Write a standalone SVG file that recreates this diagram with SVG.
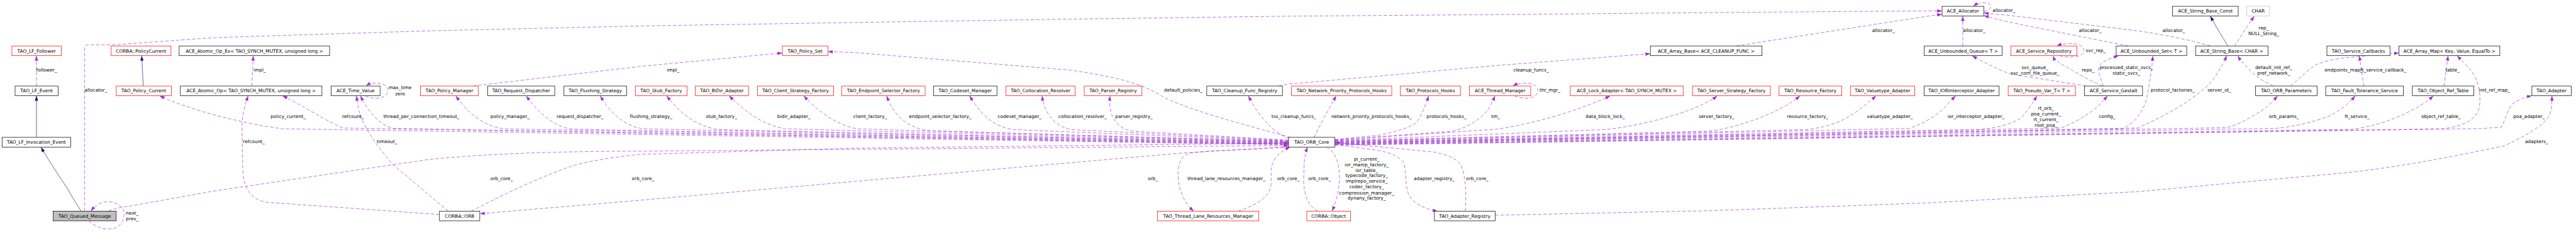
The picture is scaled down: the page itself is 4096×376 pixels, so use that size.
<svg xmlns="http://www.w3.org/2000/svg" width="4096" height="376" viewBox="0 0 4096 376">
<style>
.r{fill:#fff;stroke:#ff0000;stroke-width:1.2}
.k{fill:#fff;stroke:#000;stroke-width:1.2}
.g{fill:#bfbfbf;stroke:#000;stroke-width:1.2}
.c{fill:#fff;stroke:#bfbfbf;stroke-width:1.2}
text{font-family:'DejaVu Sans','Liberation Sans',sans-serif;font-size:12.2px;fill:#000}
.t{text-anchor:middle}
.m{text-anchor:middle}
.d{fill:none;stroke:#9a32cd;stroke-width:1.1;stroke-dasharray:9,5;marker-end:url(#ap)}
.s{fill:none;stroke:#191970;stroke-width:1.1;marker-end:url(#an)}
</style>
<defs>
<marker id="ap" markerUnits="userSpaceOnUse" markerWidth="13" markerHeight="9" viewBox="0 0 13 9" refX="13" refY="4.5" orient="auto"><path d="M0,0 L13,4.5 L0,9 z" fill="#9a32cd"/></marker>
<marker id="an" markerUnits="userSpaceOnUse" markerWidth="13" markerHeight="9" viewBox="0 0 13 9" refX="13" refY="4.5" orient="auto"><path d="M0,0 L13,4.5 L0,9 z" fill="#191970"/></marker>
</defs>
<rect x="0" y="0" width="4096" height="376" fill="#fff"/>
<g transform="scale(0.607)">
<g id="connectors">
<path class="d" d="M95.5,225.8 L95.5,146.3"/>
<path class="d" d="M221.5,554.2 L221.5,128 Q221.5,118 232,117.8 L298,117.6 L563,98.7 L1123,81 L1683,68 L2243,59 L2803,50.3 L3363,42.6 L3923,38.3 L4483,33 L5043,28.6 L5087.4,28.6"/>
<path class="d" d="M233,579.7 C250,596 270,603 290,601 C320,598 328,570 324,552 C318,536 290,525 270,531 C255,536 245,545 238,554.2"/>
<path class="d" d="M659.5,225.8 L663.4,146.3"/>
<path class="d" d="M3375.4,380 L740,338 C640,325 500,290 418,251.5"/>
<path class="d" d="M3375.4,379 L900,336 C860,322 790,275 740,251.5"/>
<path class="d" d="M3375.4,378 L1030,337 C990,326 963,290 944,251.5"/>
<path class="d" d="M957,251.3 C975,262 1005,259 1013,247 C1020,235 1015,224 1000,220 C985,216 970,218 958.6,225.8"/>
<path class="d" d="M1151.2,563 L700,531 C660,525 640,500 636,450 L634,330 C634,300 642,275 650,251.5"/>
<path class="d" d="M1174,554.2 L1027,430 C985,380 950,330 940,290 L933.4,251.5"/>
<path class="d" d="M1238.5,225.8 L1683,173.7 L2049.5,139"/>
<path class="d" d="M3375.4,377 L1320,338 C1260,330 1220,290 1194,251.5"/>
<path class="d" d="M3375.4,376 L1500,339 C1450,334 1405,290 1378.5,251.5"/>
<path class="d" d="M3375.4,375 L1685,338 C1630,330 1595,290 1572.4,251.5"/>
<path class="d" d="M3375.4,374 L1880,340 C1820,330 1780,295 1746.4,251.5"/>
<path class="d" d="M3375.4,373 L2057,338 C1995,328 1950,290 1909.8,251.5"/>
<path class="d" d="M3375.4,372 L2245,338 C2190,328 2140,290 2105.5,251.5"/>
<path class="d" d="M3375.4,371 L2430,343 C2370,332 2340,300 2322.6,251.5"/>
<path class="d" d="M3375.4,370 L2655,340 C2600,332 2570,300 2539.8,251.5"/>
<path class="d" d="M3375.4,369 L2805,340 C2760,330 2735,295 2730,251.5"/>
<path class="d" d="M3375.4,368 L2965,344 C2920,335 2903,300 2907.7,251.5"/>
<path class="d" d="M3376,364 C3330,345 3295,300 3270,251.5"/>
<path class="d" d="M3381,360.5 C3250,325 3100,285 3040,250 C3000,226 2950,205 2803,184 L2240,138 L2168.7,135.5"/>
<path class="d" d="M3349,225.8 C3370,220 3390,219 3396,219 L3923,171.7 L4323.2,141"/>
<path class="d" d="M283.7,554.2 C305,546 320,543 334,542 L563,501 L1123,418.5 C1300,401 1500,397 1683,396.8 L3375.4,382"/>
<path class="d" d="M1235,554.2 C1300,520 1400,470 1500,435 C1560,418 1650,407 1683,405 L2240,389 L3375.4,375.5"/>
<path class="d" d="M3375.4,385 L3105,401 L2240,476 L1683,525 L1256.8,561"/>
<path class="d" d="M3378,386 C3250,395 3130,395 3108,405 C3090,415 3085,440 3086,460 C3088,500 3100,530 3127,554.2"/>
<path class="d" d="M3243,554.2 C3300,535 3328,515 3330,480 L3330,446 C3332,420 3350,398 3380,386"/>
<path class="d" d="M3452,554.2 C3425,540 3415,510 3415,470 L3416,434 C3417,415 3420,400 3425,386"/>
<path class="d" d="M3475,386 C3500,400 3508,430 3509,466 C3508,500 3500,530 3489.3,554.2"/>
<path class="d" d="M3496.8,379 L3611,395 C3650,402 3670,415 3678,430 C3683,450 3681,480 3688,505 C3700,535 3730,548 3766,554.2"/>
<path class="d" d="M3838,554.2 C3842,520 3840,460 3827,434 C3815,415 3790,405 3755,399 L3496.8,374"/>
<path class="d" d="M3443,360.5 C3455,330 3480,290 3500,251.5"/>
<path class="d" d="M3496.8,366 L3611,355 C3660,345 3700,333 3712,320 C3725,300 3735,275 3742.4,251.5"/>
<path class="d" d="M3496.8,367 L3800,345 C3850,335 3880,310 3898,288 C3905,275 3912,262 3916.5,251.5"/>
<path class="d" d="M3967,251.3 C3990,262 4020,259 4027,245 C4032,232 4025,222 4005,219 C3990,217 3975,219 3963,225.8"/>
<path class="d" d="M3496.8,368 L3920,339 C4000,328 4100,300 4170,272 C4190,265 4205,258 4218,251.5"/>
<path class="d" d="M3496.8,369 L4207,340 C4300,330 4400,300 4440,283 C4470,270 4488,260 4498,251.5"/>
<path class="d" d="M3496.8,370 L4480,344 C4550,335 4630,305 4680,276 C4695,268 4705,260 4715,251.5"/>
<path class="d" d="M3496.8,371 L4731,340 C4800,333 4840,312 4875,284 C4890,272 4903,262 4914.5,251.5"/>
<path class="d" d="M4548,120.6 L5043,43.4 L5087.4,37.5"/>
<path class="d" d="M3496.8,372 L5000,337 C5050,322 5090,290 5110,265 L5122.6,251.5"/>
<path class="d" d="M3496.8,373 L5183,340 C5240,335 5265,325 5291,312 C5310,295 5325,270 5336,251.5"/>
<path class="d" d="M3496.8,374.5 L5399,336 C5440,320 5480,295 5500,275 L5521,251.5"/>
<path class="d" d="M5141.6,120.6 L5141.6,42.3"/>
<path class="d" d="M5196.6,31 C5212,27 5220,18 5212,11 C5204,5 5183,6 5169,16.6"/>
<path class="d" d="M5575,120.6 C5480,102 5330,72 5250,55 L5196.6,41"/>
<path class="d" d="M5790,120.6 C5740,105 5650,88 5600,81 L5260,40 L5196.6,34"/>
<path class="d" d="M5395,146.1 C5420,153 5450,150 5457,140 C5462,128 5455,118 5437,115 C5420,113 5400,115 5388,120.6"/>
<path class="d" d="M5464,225.8 C5400,215 5300,200 5262,193 C5230,180 5190,160 5166,146.3"/>
<path class="d" d="M5507,225.8 C5470,210 5420,180 5395,165 C5385,158 5380,152 5378,146.3"/>
<path class="d" d="M5510,225.8 C5505,210 5495,190 5498,178 C5500,165 5520,155 5550,146.3"/>
<path class="d" d="M3496.8,375 L5560,338 C5600,320 5620,280 5625,250 C5632,210 5637,180 5639.5,146.3"/>
<path class="d" d="M3496.8,376 L5600,336 C5680,300 5740,265 5787,221 C5805,200 5820,175 5833.4,146.3"/>
<path class="d" d="M5853,120.6 C5870,95 5890,65 5905,42.3"/>
<path class="d" d="M5955,225.8 C5930,213 5912,203 5900,190 C5885,175 5870,160 5862,146.3"/>
<path class="d" d="M6000,225.8 C6030,200 6050,180 6067,170 C6100,155 6140,152 6163,150 C6200,146 6250,142 6284.3,139"/>
<path class="d" d="M3496.8,377 L5833,335 C5870,325 5900,305 5923,292 C5940,280 5955,265 5966,251.5"/>
<path class="d" d="M3496.8,378 L5959,337 C6010,333 6060,320 6103,304 C6130,290 6155,270 6169.3,251.5"/>
<path class="d" d="M6192,225.8 L6180.5,146.3"/>
<path class="d" d="M6402,225.8 L6413,146.3"/>
<path class="d" d="M3496.8,379 L6160,339.5 C6230,330 6280,310 6328,284 C6350,272 6365,260 6374.5,251.5"/>
<path class="d" d="M3496.8,380 L6400,338 C6460,330 6490,310 6495,280 C6500,240 6490,200 6466,177 C6455,165 6445,155 6436,146.3"/>
<path class="d" d="M3496.8,381 L6495,337.5 L6552,334 C6565,310 6570,285 6582,272 C6600,260 6615,255 6632.4,251.3"/>
<path class="d" d="M3916.5,565 L4480,553 L5040,533 L5600,503 L6160,452 C6350,430 6520,390 6560,383 C6640,345 6675,320 6682,292 C6685,275 6685,262 6685,251.5"/>
<path class="s" d="M95.5,360.5 L95.5,251.5"/>
<path class="s" d="M212.6,554.2 C200,535 185,510 176,494 L150,455 C135,430 120,410 107.7,386.2"/>
<path class="s" d="M375.2,225.8 L371.3,146.3"/>
<path class="s" d="M5836,120.6 C5822,98 5808,75 5790,42.3"/>
</g>
<g id="edge-labels">
<text x="94.8" y="187.9">follower_</text>
<text x="221.5" y="241.3">allocator_</text>
<text x="664" y="187.9">impl_</text>
<text x="1747" y="187.9">impl_</text>
<text x="329.6" y="562.9">next_</text>
<text x="329.6" y="577.9">prev_</text>
<text class="m" x="1048" y="234.3">max_time</text>
<text class="m" x="1048" y="249.9">zero</text>
<text x="709" y="310.3">policy_current_</text>
<text x="896.4" y="310.3">refcount_</text>
<text x="1004.5" y="310.3">thread_per_connection_timeout_</text>
<text x="1284.5" y="310.3">policy_manager_</text>
<text x="1458" y="310.3">request_dispatcher_</text>
<text x="1650" y="310.3">flushing_strategy_</text>
<text x="1849" y="310.3">stub_factory_</text>
<text x="2036" y="310.3">bidir_adapter_</text>
<text x="2234.8" y="310.3">client_factory_</text>
<text x="2381" y="310.3">endpoint_selector_factory_</text>
<text x="2613.4" y="310.3">codeset_manager_</text>
<text x="2772" y="310.3">collocation_resolver_</text>
<text x="2921.4" y="310.3">parser_registry_</text>
<text x="3049" y="241.3">default_policies_</text>
<text x="3330.7" y="310.3">tss_cleanup_funcs_</text>
<text x="3487.5" y="310.3">network_priority_protocols_hooks_</text>
<text x="3737" y="310.3">protocols_hooks_</text>
<text x="3906.5" y="310.3">tm_</text>
<text x="3964" y="187.9">cleanup_funcs_</text>
<text x="4033" y="241.3">thr_mgr_</text>
<text x="4153.4" y="310.3">data_block_lock_</text>
<text x="4449.6" y="310.3">server_factory_</text>
<text x="4681.4" y="310.3">resource_factory_</text>
<text x="4890.4" y="310.3">valuetype_adapter_</text>
<text x="4904" y="83.3">allocator_</text>
<text x="5101.8" y="310.3">ior_interceptor_adapter_</text>
<text class="m" x="5359.6" y="287.8">rt_orb_</text>
<text class="m" x="5359.6" y="303.2">poa_current_</text>
<text class="m" x="5359.6" y="318.2">rt_current_</text>
<text class="m" x="5359.6" y="332">root_poa_</text>
<text x="5497.8" y="310.3">config_</text>
<text x="5141.6" y="83.3">allocator_</text>
<text x="5219.5" y="31.9">allocator_</text>
<text x="5463.7" y="136.3">svc_rep_</text>
<text class="m" x="5330.5" y="181.9">svc_queue_</text>
<text class="m" x="5330.5" y="195.8">svc_conf_file_queue_</text>
<text x="5453" y="187.9">repo_</text>
<text class="m" x="5570" y="181.9">processed_static_svcs_</text>
<text class="m" x="5570" y="195.8">static_svcs_</text>
<text x="5445.7" y="83.3">allocator_</text>
<text x="5664.6" y="83.3">allocator_</text>
<text class="m" x="5929.6" y="78.1">rep_</text>
<text class="m" x="5929.6" y="91.5">NULL_String_</text>
<text x="5634" y="241.3">protocol_factories_</text>
<text x="5782.4" y="241.3">server_id_</text>
<text class="m" x="5956" y="181.9">default_init_ref_</text>
<text class="m" x="5956" y="195.8">pref_network_</text>
<text x="6089.4" y="187.9">endpoints_map_</text>
<text x="6183" y="187.9">ft_service_callback_</text>
<text x="5943.6" y="310.3">orb_params_</text>
<text x="6142" y="310.3">ft_service_</text>
<text x="6406" y="187.9">table_</text>
<text x="6494" y="241.3">init_ref_map_</text>
<text x="6342.5" y="310.3">object_ref_table_</text>
<text x="6583.5" y="310.3">poa_adapter_</text>
<text x="6614.5" y="375.3">adapters_</text>
<text x="636.5" y="375.3">refcount_</text>
<text x="987" y="375.3">timeout_</text>
<text x="1284.5" y="472.3">orb_core_</text>
<text x="1655" y="472.3">orb_core_</text>
<text x="3006.5" y="472.3">orb_</text>
<text x="3110.6" y="472.3">thread_lane_resources_manager_</text>
<text x="3345.4" y="472.3">orb_core_</text>
<text x="3427" y="472.3">orb_core_</text>
<text class="m" x="3580" y="421.6">pi_current_</text>
<text class="m" x="3580" y="435.8">ior_manip_factory_</text>
<text class="m" x="3580" y="450.8">ior_table_</text>
<text class="m" x="3580" y="465.3">typecode_factory_</text>
<text class="m" x="3580" y="480">implrepo_service_</text>
<text class="m" x="3580" y="495">codec_factory_</text>
<text class="m" x="3580" y="510">compression_manager_</text>
<text class="m" x="3580" y="524.3">dynany_factory_</text>
<text x="3703.6" y="472.3">adapter_registry_</text>
<text x="3840.4" y="472.3">orb_core_</text>
</g>
<g id="n_ace_allocator"><rect class="k" x="5087.4" y="16.6" width="109.2" height="25.5"/><text class="t" x="5142" y="33.65">ACE_Allocator</text></g>
<g id="n_ace_string_base_const"><rect class="k" x="5691.2" y="16.6" width="172" height="25.5"/><text class="t" x="5777.2" y="33.65">ACE_String_Base_Const</text></g>
<g id="n_char"><rect class="c" x="5885.5" y="16.6" width="59.9" height="25.5"/><text class="t" x="5915.45" y="33.65">CHAR</text></g>
<g id="n_tao_lf_follower"><rect class="r" x="31.2" y="120.6" width="129.3" height="25.5"/><text class="t" x="95.85" y="137.65">TAO_LF_Follower</text></g>
<g id="n_corba_policycurrent"><rect class="r" x="291.2" y="120.6" width="156.6" height="25.5"/><text class="t" x="369.5" y="137.65">CORBA::PolicyCurrent</text></g>
<g id="n_ace_atomic_op_ex"><rect class="k" x="469.3" y="120.6" width="394.1" height="25.5"/><text class="t" x="666.35" y="137.65">ACE_Atomic_Op_Ex&lt; TAO_SYNCH_MUTEX, unsigned long &gt;</text></g>
<g id="n_tao_policy_set"><rect class="r" x="2049.5" y="120.6" width="119.2" height="25.5"/><text class="t" x="2109.1" y="137.65">TAO_Policy_Set</text></g>
<g id="n_ace_array_base"><rect class="k" x="4323.2" y="120.6" width="292.5" height="25.5"/><text class="t" x="4469.45" y="137.65">ACE_Array_Base&lt; ACE_CLEANUP_FUNC &gt;</text></g>
<g id="n_ace_unbounded_queue"><rect class="k" x="5040.7" y="120.6" width="204" height="25.5"/><text class="t" x="5142.7" y="137.65">ACE_Unbounded_Queue&lt; T &gt;</text></g>
<g id="n_ace_service_repository"><rect class="r" x="5267.3" y="120.6" width="173.1" height="25.5"/><text class="t" x="5353.85" y="137.65">ACE_Service_Repository</text></g>
<g id="n_ace_unbounded_set"><rect class="k" x="5543.4" y="120.6" width="184.8" height="25.5"/><text class="t" x="5635.8" y="137.65">ACE_Unbounded_Set&lt; T &gt;</text></g>
<g id="n_ace_string_base"><rect class="k" x="5751.5" y="120.6" width="189.6" height="25.5"/><text class="t" x="5846.3" y="137.65">ACE_String_Base&lt; CHAR &gt;</text></g>
<g id="n_tao_service_callbacks"><rect class="k" x="6095.5" y="120.6" width="165.2" height="25.5"/><text class="t" x="6178.1" y="137.65">TAO_Service_Callbacks</text></g>
<g id="n_ace_array_map"><rect class="k" x="6284.3" y="120.6" width="264.1" height="25.5"/><text class="t" x="6416.35" y="137.65">ACE_Array_Map&lt; Key, Value, EqualTo &gt;</text></g>
<g id="n_tao_lf_event"><rect class="k" x="39.5" y="225.8" width="112.7" height="25.5"/><text class="t" x="95.85" y="242.85">TAO_LF_Event</text></g>
<g id="n_tao_policy_current"><rect class="r" x="304.5" y="225.8" width="144.3" height="25.5"/><text class="t" x="376.65" y="242.85">TAO_Policy_Current</text></g>
<g id="n_ace_atomic_op"><rect class="k" x="472.5" y="225.8" width="370.8" height="25.5"/><text class="t" x="657.9" y="242.85">ACE_Atomic_Op&lt; TAO_SYNCH_MUTEX, unsigned long &gt;</text></g>
<g id="n_ace_time_value"><rect class="k" x="867.4" y="225.8" width="128.1" height="25.5"/><text class="t" x="931.45" y="242.85">ACE_Time_Value</text></g>
<g id="n_tao_policy_manager"><rect class="r" x="1101.5" y="225.8" width="151.7" height="25.5"/><text class="t" x="1177.35" y="242.85">TAO_Policy_Manager</text></g>
<g id="n_tao_request_dispatcher"><rect class="k" x="1277.3" y="225.8" width="175.9" height="25.5"/><text class="t" x="1365.25" y="242.85">TAO_Request_Dispatcher</text></g>
<g id="n_tao_flushing_strategy"><rect class="k" x="1477.3" y="225.8" width="164.1" height="25.5"/><text class="t" x="1559.35" y="242.85">TAO_Flushing_Strategy</text></g>
<g id="n_tao_stub_factory"><rect class="r" x="1664.3" y="225.8" width="135.3" height="25.5"/><text class="t" x="1731.95" y="242.85">TAO_Stub_Factory</text></g>
<g id="n_tao_bidir_adapter"><rect class="r" x="1821.5" y="225.8" width="139.3" height="25.5"/><text class="t" x="1891.15" y="242.85">TAO_BiDir_Adapter</text></g>
<g id="n_tao_client_strategy_factory"><rect class="r" x="1984.5" y="225.8" width="199.3" height="25.5"/><text class="t" x="2084.15" y="242.85">TAO_Client_Strategy_Factory</text></g>
<g id="n_tao_endpoint_selector_factory"><rect class="r" x="2205.3" y="225.8" width="218.2" height="25.5"/><text class="t" x="2314.4" y="242.85">TAO_Endpoint_Selector_Factory</text></g>
<g id="n_tao_codeset_manager"><rect class="k" x="2445.4" y="225.8" width="166.2" height="25.5"/><text class="t" x="2528.5" y="242.85">TAO_Codeset_Manager</text></g>
<g id="n_tao_collocation_resolver"><rect class="r" x="2635.3" y="225.8" width="181.2" height="25.5"/><text class="t" x="2725.9" y="242.85">TAO_Collocation_Resolver</text></g>
<g id="n_tao_parser_registry"><rect class="r" x="2840.2" y="225.8" width="151.2" height="25.5"/><text class="t" x="2915.8" y="242.85">TAO_Parser_Registry</text></g>
<g id="n_tao_cleanup_func_registry"><rect class="k" x="3161.2" y="225.8" width="198.2" height="25.5"/><text class="t" x="3260.3" y="242.85">TAO_Cleanup_Func_Registry</text></g>
<g id="n_tao_network_priority_protocols_hooks"><rect class="r" x="3383.3" y="225.8" width="262.5" height="25.5"/><text class="t" x="3514.55" y="242.85">TAO_Network_Priority_Protocols_Hooks</text></g>
<g id="n_tao_protocols_hooks"><rect class="r" x="3668.4" y="225.8" width="157.3" height="25.5"/><text class="t" x="3747.05" y="242.85">TAO_Protocols_Hooks</text></g>
<g id="n_ace_thread_manager"><rect class="r" x="3849.4" y="225.8" width="160.4" height="25.5"/><text class="t" x="3929.6" y="242.85">ACE_Thread_Manager</text></g>
<g id="n_ace_lock_adapter"><rect class="r" x="4113.5" y="225.8" width="296.3" height="25.5"/><text class="t" x="4261.65" y="242.85">ACE_Lock_Adapter&lt; TAO_SYNCH_MUTEX &gt;</text></g>
<g id="n_tao_server_strategy_factory"><rect class="r" x="4433.5" y="225.8" width="204.1" height="25.5"/><text class="t" x="4535.55" y="242.85">TAO_Server_Strategy_Factory</text></g>
<g id="n_tao_resource_factory"><rect class="r" x="4660.3" y="225.8" width="164.4" height="25.5"/><text class="t" x="4742.5" y="242.85">TAO_Resource_Factory</text></g>
<g id="n_tao_valuetype_adapter"><rect class="r" x="4847.3" y="225.8" width="168.4" height="25.5"/><text class="t" x="4931.5" y="242.85">TAO_Valuetype_Adapter</text></g>
<g id="n_tao_iorinterceptor_adapter"><rect class="k" x="5040.1" y="225.8" width="196.7" height="25.5"/><text class="t" x="5138.45" y="242.85">TAO_IORInterceptor_Adapter</text></g>
<g id="n_tao_pseudo_var_t"><rect class="r" x="5260.5" y="225.8" width="176.3" height="25.5"/><text class="t" x="5348.65" y="242.85">TAO_Pseudo_Var_T&lt; T &gt;</text></g>
<g id="n_ace_service_gestalt"><rect class="k" x="5460.5" y="225.8" width="152.1" height="25.5"/><text class="t" x="5536.55" y="242.85">ACE_Service_Gestalt</text></g>
<g id="n_tao_orb_parameters"><rect class="k" x="5908.4" y="225.8" width="161.3" height="25.5"/><text class="t" x="5989.05" y="242.85">TAO_ORB_Parameters</text></g>
<g id="n_tao_fault_tolerance_service"><rect class="k" x="6092.3" y="225.8" width="203.5" height="25.5"/><text class="t" x="6194.05" y="242.85">TAO_Fault_Tolerance_Service</text></g>
<g id="n_tao_object_ref_table"><rect class="k" x="6319.3" y="225.8" width="161.2" height="25.5"/><text class="t" x="6399.9" y="242.85">TAO_Object_Ref_Table</text></g>
<g id="n_tao_adapter"><rect class="k" x="6632.4" y="225.8" width="103.3" height="25.5"/><text class="t" x="6684.05" y="242.85">TAO_Adapter</text></g>
<g id="n_tao_lf_invocation_event"><rect class="k" x="5.4" y="360.5" width="179.9" height="25.5"/><text class="t" x="95.35" y="377.55">TAO_LF_Invocation_Event</text></g>
<g id="n_tao_orb_core"><rect class="k" x="3375.4" y="360.5" width="121.4" height="25.5"/><text class="t" x="3436.1" y="377.55">TAO_ORB_Core</text></g>
<g id="n_tao_queued_message"><rect class="g" x="139.3" y="554.2" width="165.2" height="25.5"/><text class="t" x="221.9" y="571.25">TAO_Queued_Message</text></g>
<g id="n_corba_orb"><rect class="k" x="1151.2" y="554.2" width="105.6" height="25.5"/><text class="t" x="1204" y="571.25">CORBA::ORB</text></g>
<g id="n_tao_thread_lane_resources_manager"><rect class="r" x="3032.3" y="554.2" width="265.4" height="25.5"/><text class="t" x="3165" y="571.25">TAO_Thread_Lane_Resources_Manager</text></g>
<g id="n_corba_object"><rect class="r" x="3423.2" y="554.2" width="114.5" height="25.5"/><text class="t" x="3480.45" y="571.25">CORBA::Object</text></g>
<g id="n_tao_adapter_registry"><rect class="k" x="3757.5" y="554.2" width="159" height="25.5"/><text class="t" x="3837" y="571.25">TAO_Adapter_Registry</text></g>
</g>
</svg>
